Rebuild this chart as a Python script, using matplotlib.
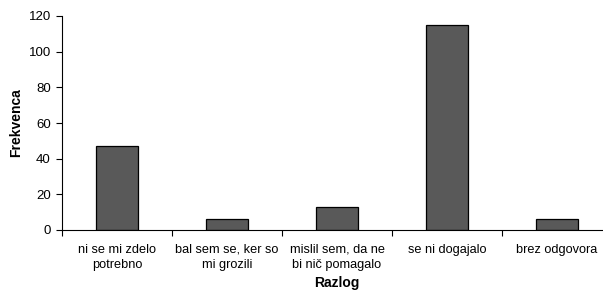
import matplotlib.pyplot as plt
import numpy as np

# reasons and their counts
razlogi = ["ni se mi zdelo\npotrebno", "bal sem se, ker so\nmi grozili",
           "mislil sem, da ne\nbi nič pomagalo", "se ni dogajalo", "brez odgovora"]
frekvenca = [47, 6, 13, 115, 6]
yticks = [0, 20, 40, 60, 80, 100, 120]

plt.rcParams['font.family'] = ['Liberation Sans', 'DejaVu Sans']

fig = plt.figure(figsize=(6.03, 2.98), dpi=100)
ax = fig.add_axes([62/603, 68/298, 550/603, 214/298])

x = np.arange(len(razlogi))
ax.bar(x, frekvenca, width=0.39, color="#595959", edgecolor="black", linewidth=0.9)

ax.set_xlim(-0.5, len(razlogi) - 0.5)
ax.set_ylim(0, 120)
ax.set_yticks(yticks)
ax.tick_params(axis="y", labelsize=9.5, length=4, width=0.8, direction="out", pad=4)

# category labels centered, ticks between categories
ax.set_xticks(x)
ax.set_xticklabels(razlogi, fontsize=9.2, linespacing=1.4)
ax.tick_params(axis="x", which="major", length=0, pad=10)
ax.set_xticks(np.arange(-0.5, len(razlogi), 1), minor=True)
ax.tick_params(axis="x", which="minor", length=4, width=0.8, direction="out")

for s in ["top", "right"]:
    ax.spines[s].set_visible(False)
ax.spines["left"].set_linewidth(0.8)
ax.spines["bottom"].set_linewidth(0.8)

ax.set_ylabel("Frekvenca", fontsize=10, fontweight="bold", labelpad=4)
ax.set_xlabel("Razlog", fontsize=10, fontweight="bold", labelpad=3)

fig.savefig("out.png", dpi=100)
